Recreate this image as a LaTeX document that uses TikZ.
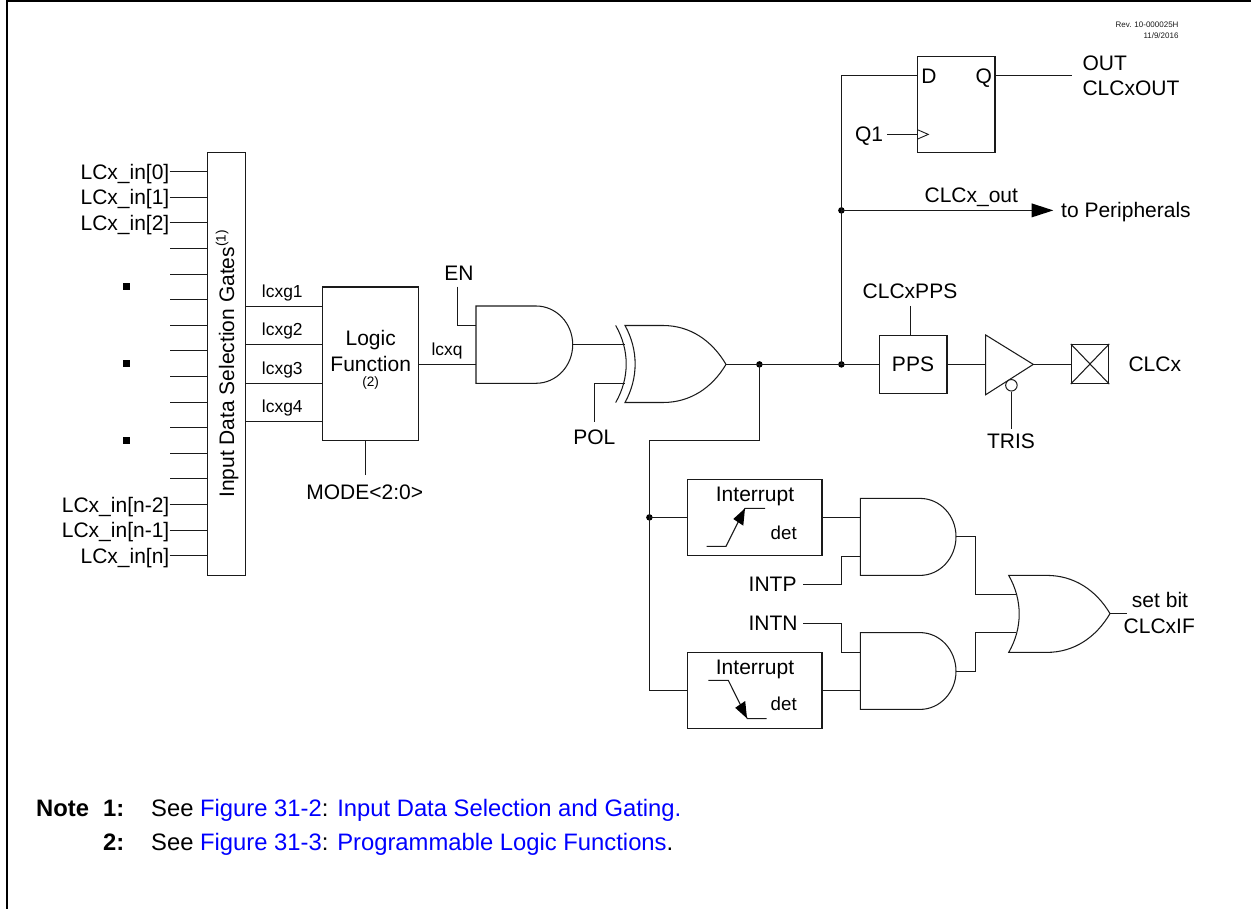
\documentclass[tikz,border=0pt]{standalone}
\usepackage{fontspec}
\setmainfont{Liberation Sans}
\usetikzlibrary{calc}
\definecolor{ink}{HTML}{1A1A1A}
\definecolor{linkblue}{HTML}{0000FF}
\newcommand{\fa}{\fontsize{21}{21}\selectfont}
\newcommand{\fb}{\fontsize{17.4}{18}\selectfont}
\newcommand{\fc}{\fontsize{18.7}{19}\selectfont}
\newcommand{\fd}{\fontsize{13.6}{14}\selectfont}
\newcommand{\fe}{\fontsize{8}{9}\selectfont}
\newcommand{\ff}{\fontsize{23.8}{24}\selectfont}
\tikzset{
  wire/.style={draw=ink,line width=1.05pt,line join=miter},
  shapeline/.style={draw=ink,line width=1.05pt,line join=miter},
  box/.style={draw=ink,line width=1.05pt,inner sep=0pt,minimum width=#1},
  gatebody/.style={inner sep=0pt,draw=none},
  lab/.style={inner sep=0pt,font=\fa,text=black,text height=15pt,text depth=0pt},
  labb/.style={inner sep=0pt,font=\fb,text=black,text height=12.5pt,text depth=0pt},
  labc/.style={inner sep=0pt,font=\fc,text=black,text height=13.4pt,text depth=0pt},
  labd/.style={inner sep=0pt,font=\fd,text=black,text height=10pt,text depth=0pt},
  labe/.style={inner sep=0pt,font=\fe,text=ink,text height=5.8pt,text depth=0pt},
  note/.style={inner sep=0pt,font=\ff,anchor=base west,text=black},
  dot/.style={circle,fill=black,inner sep=0pt,minimum size=6.5pt},
  bigdot/.style={rectangle,fill=black,inner sep=0pt,minimum size=7pt},
}
\begin{document}
\begin{tikzpicture}[x=1pt,y=-1pt]
\useasboundingbox (0,0) rectangle (1251,909);
% frame
\draw[black,line width=2.2pt] (7,909) -- (7,1.2) -- (1251,1.2);

% Input gates block
\node[box=38pt,minimum height=422.3pt] (gates) at (226.6,363.9) {};
\node[lab,rotate=90,anchor=base west,text height=15pt,text depth=0pt] (gatestxt) at (234.2,498)
  {Input Data Selection Gates\raisebox{8.5pt}{\fd(1)}};

% inputs
\foreach \i/\t in {0/{LCx\_in[0]},1/{LCx\_in[1]},2/{LCx\_in[2]},13/{LCx\_in[n-2]},14/{LCx\_in[n-1]},15/{LCx\_in[n]}}{
  \pgfmathsetmacro{\yy}{171.7+25.6*\i}
  \node[lab,anchor=east] (in\i) at (169.5,\yy) {\t};
  \draw[wire] (in\i.east) -- (in\i.east -| gates.west);
}
\foreach \i in {3,...,12}{
  \pgfmathsetmacro{\yy}{171.7+25.6*\i}
  \coordinate (p\i) at (170,\yy);
  \draw[wire] (p\i) -- (p\i -| gates.west);
}
\node[bigdot] (s1) at (126.3,286.3) {};
\node[bigdot] (s2) at (126.3,363.3) {};
\node[bigdot] (s3) at (126.3,440.3) {};

% Logic function
\node[box=96pt,minimum height=153.7pt] (lfn) at (370.7,363.85) {};
\node[lab] (lfn1) at (370.7,337.7) {Logic};
\node[lab] (lfn2) at (370.7,364) {Function};
\node[labd] (lfn3) at (370.7,382) {(2)};
\foreach \i/\y/\ly in {1/306.4/291,2/344.4/329,3/383.4/368,4/421.6/406}{
  \coordinate (g\i) at (lfn.west |- 0,\y);
  \draw[wire] (g\i) -- (g\i -| gates.east);
  \node[labb] (lg\i) at (282.3,\ly) {lcxg\i};
}
\node[lab] (mode) at (364.7,491.7) {MODE<2:0>};
\coordinate (modeend) at (365.4,475);
\draw[wire] (modeend) -- (modeend |- lfn.south);

% AND 1
\node[gatebody,minimum width=96.7pt,minimum height=77.3pt] (and1) at (524.35,344.65) {};
\draw[shapeline] (476,306) -- (536,306) .. controls (556.3,306) and (572.7,323.3) .. (572.7,344.65)
  .. controls (572.7,366) and (556.3,383.3) .. (536,383.3) -- (476,383.3) -- cycle;
\node[lab] (en) at (459,272.7) {EN};
\coordinate (enend) at (457.4,286.7);
\coordinate (and1a) at (476,325.6);
\coordinate (and1b) at (476,364.4);
\draw[wire] (enend) |- (and1a);
\draw[wire] (lfn.east |- and1b) -- (and1b);
\node[labb,anchor=center] (lcxq) at (447,349) {lcxq};

% XOR
\node[gatebody,minimum width=101pt,minimum height=77pt] (xor) at (675.5,364.4) {};
\draw[shapeline] (625,325.5) -- (663,325.5) .. controls (690,325.5) and (712,340.5) .. (726,364.4)
  .. controls (712,388) and (690,402.5) .. (663,402.5) -- (625,402.5)
  .. controls (638.5,378) and (638.5,350) .. (625,325.5) -- cycle;
\draw[shapeline] (615.7,325.5) .. controls (629.7,350) and (629.7,378) .. (615.7,402.5);
\coordinate (xora) at (624.5,344.65);
\coordinate (xorb) at (624.5,383.4);
\draw[wire] (and1.east) -- (xora);
\coordinate (polend) at (594.4,421.7);
\draw[wire] (polend) |- (xorb);
\node[lab] (pol) at (594.3,437.3) {POL};

% junctions
\node[dot] (j1) at (759.4,364.4) {};
\node[dot] (j2) at (841.4,364.4) {};
\node[dot] (j3) at (841.4,210.4) {};
\node[dot] (j4) at (649.4,517.4) {};
\draw[wire] (xor.east) -- (j1.center) -- (j2.center);

% Flip flop
\node[box=77.3pt,minimum height=96pt] (ff) at (956.35,104.7) {};
\node[lab] (ffd) at (929,76) {D};
\node[lab] (ffq) at (983.7,76) {Q};
\coordinate (ffdin) at (917.7,75.6);
\coordinate (ffqo) at (995,75.6);
\coordinate (outend) at (1071.7,75.6);
\draw[wire] (j2.center) -- (j3.center) |- (ffdin);
\draw[wire] (ffqo) -- (outend);
\node[lab,anchor=west] (out1) at (1082.3,63.3) {OUT};
\node[lab,anchor=west] (out2) at (1082.3,88.3) {CLCxOUT};
\node[lab] (q1) at (869,134) {Q1};
\coordinate (clk) at (917.7,134.4);
\coordinate (clkstart) at (887.3,134.4);
\draw[wire] (clkstart) -- (clk);
\draw[shapeline,line width=0.9pt] (917.7,129.8) -- (928.3,134.4) -- (917.7,139);

% to peripherals
\coordinate (arrbase) at (1031.7,210.4);
\node[lab] (clkout) at (971.3,195) {CLCx\_out};
\node[lab,anchor=west] (periph) at (1061,210.5) {to Peripherals};
\draw[wire] (j3.center) -- (arrbase);
\fill[black] (1031.7,203.4) -- (1053.3,210.4) -- (1031.7,217.4) -- cycle;

% PPS
\node[box=67.7pt,minimum height=57.8pt] (pps) at (913.15,364.4) {};
\node[lab] (ppst) at (913,364.3) {PPS};
\node[lab] (ppsin) at (910,291) {CLCxPPS};
\coordinate (ppsend) at (910.6,306);
\draw[wire] (ppsend) -- (ppsend |- pps.north);
\draw[wire] (j2.center) -- (pps.west);

% buffer
\node[gatebody,minimum width=47.6pt,minimum height=59.7pt] (buf) at (1009.5,364.8) {};
\draw[shapeline] (985.7,335) -- (1033.3,364.4) -- (985.7,394.7) -- cycle;
\coordinate (bufa) at (985.7,364.4);
\coordinate (bufo) at (1033.3,364.4);
\draw[wire] (pps.east |- bufa) -- (bufa);
\node[circle,draw=ink,fill=white,line width=1pt,inner sep=0pt,minimum size=11.5pt] (bub) at (1011.4,385.3) {};
\coordinate (trisend) at (1011.4,429.3);
\draw[wire] (bub.south) -- (trisend);
\node[lab] (tris) at (1011,441) {TRIS};

% pad
\node[box=37.4pt,minimum height=39pt] (pad) at (1090,364) {};
\draw[shapeline] (pad.north west) -- (pad.south east) (pad.north east) -- (pad.south west);
\draw[wire] (bufo) -- (pad.west |- bufo);
\node[lab,anchor=west] (clcx) at (1128.3,364) {CLCx};

% Rev
\node[labe,anchor=east] (rev1) at (1178.7,25) {Rev. 10-000025H};
\node[labe,anchor=east] (rev2) at (1178.7,35.7) {11/9/2016};

% Interrupt path
\coordinate (c1) at (649.4,440.6);
\coordinate (c2) at (649.4,690.4);
\draw[wire] (j1.center) |- (c1) -- (j4.center) -- (c2);

% Interrupt boxes
\node[box=134.3pt,minimum height=76.7pt] (int1) at (754.85,517.4) {};
\node[lab] (int1t) at (755,493.7) {Interrupt};
\node[labc] (int1d) at (783.7,533) {det};
\draw[wire] (706.7,546.4) -- (726,546.4) -- (745,508.4) -- (765,508.4);
\fill[black] (745,508.3) -- (743.3,525.7) -- (733.3,519) -- cycle;
\node[box=134.3pt,minimum height=76.7pt] (int2) at (754.85,690.4) {};
\node[lab] (int2t) at (755,666.7) {Interrupt};
\node[labc] (int2d) at (783.7,703.7) {det};
\draw[wire] (708.3,680.4) -- (728.3,680.4) -- (747.3,718.6) -- (766.7,718.6);
\fill[black] (747,718.4) -- (745.2,701) -- (735.2,707.8) -- cycle;

% AND 2
\node[gatebody,minimum width=95.7pt,minimum height=77pt] (and2) at (908.15,536.6) {};
\draw[shapeline] (860.4,498.4) -- (920,498.4) .. controls (940,498.4) and (956,515.5) .. (956,536.6)
  .. controls (956,558) and (940,575.4) .. (920,575.4) -- (860.4,575.4) -- cycle;
% AND 3
\node[gatebody,minimum width=95.7pt,minimum height=76.6pt] (and3) at (908.15,671.4) {};
\draw[shapeline] (860.4,632.6) -- (920,632.6) .. controls (940,632.6) and (956,650) .. (956,671.4)
  .. controls (956,692) and (940,709.4) .. (920,709.4) -- (860.4,709.4) -- cycle;

\coordinate (a2a) at (860.4,517.4);
\coordinate (a2b) at (860.4,556.4);
\coordinate (a3a) at (860.4,652.4);
\coordinate (a3b) at (860.4,690.4);
\draw[wire] (j4.center) -- (int1.west);
\draw[wire] (c2) -- (int2.west);
\draw[wire] (int1.east |- a2a) -- (a2a);
\draw[wire] (int2.east |- a3b) -- (a3b);

\node[lab,anchor=east] (intp) at (796.7,583.7) {INTP};
\node[lab,anchor=east] (intn) at (797.7,622.7) {INTN};
\coordinate (intps) at (803.3,584.6);
\coordinate (intns) at (803.3,623.4);
\draw[wire] (intps) -| (841.4,556.4) -- (a2b);
\draw[wire] (intns) -| (841.4,652.4) -- (a3a);

% OR
\node[gatebody,minimum width=101.3pt,minimum height=76.7pt] (or) at (1059.35,613.6) {};
\draw[shapeline] (1008.7,575.4) -- (1046.7,575.4) .. controls (1074,575.4) and (1096,590) .. (1110,613.6)
  .. controls (1096,637.4) and (1074,652.4) .. (1046.7,652.4) -- (1008.7,652.4)
  .. controls (1022.7,628) and (1022.7,600) .. (1008.7,575.4) -- cycle;
\coordinate (ora) at (1016,594.4);
\coordinate (orb) at (1016,632.6);
\draw[wire] (and2.east) -| (975.4,594.4) -- (ora);
\draw[wire] (and3.east) -| (975.4,632.6) -- (orb);
\coordinate (orend) at (1126.7,613.6);
\draw[wire] (or.east) -- (orend);
\node[lab] (setbit) at (1160,600) {set bit};
\node[lab] (clcxif) at (1159.3,626) {CLCxIF};

% Notes
\node[note] (n0) at (36,816.7) {\bfseries Note};
\node[note] (n1) at (103,816.7) {\bfseries 1:};
\node[note] (n1t) at (151,816.7) {See \textcolor{linkblue}{Figure 31-2}: \textcolor{linkblue}{Input Data Selection and Gating.}};
\node[note] (n2) at (103,850) {\bfseries 2:};
\node[note] (n2t) at (151,850) {See \textcolor{linkblue}{Figure 31-3}: \textcolor{linkblue}{Programmable Logic Functions}.};
\end{tikzpicture}
\end{document}
